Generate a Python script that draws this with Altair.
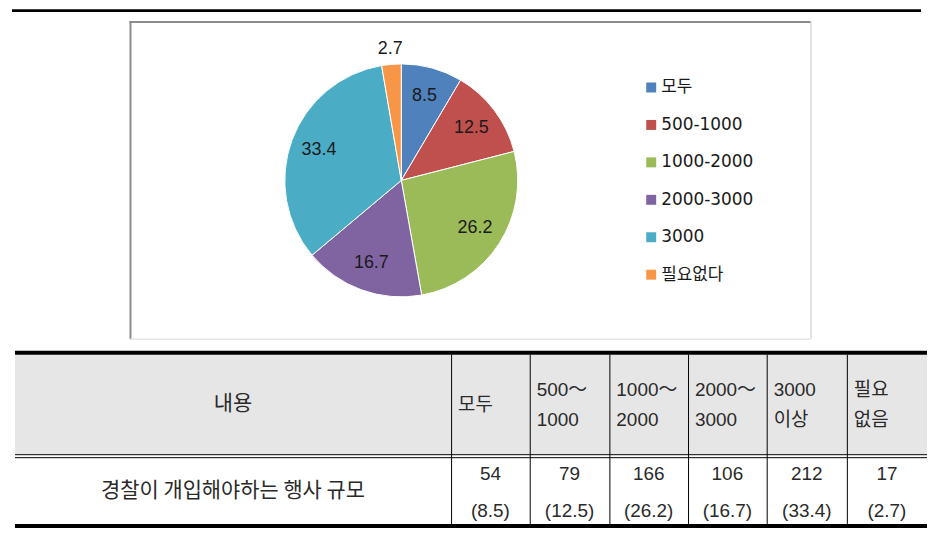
import altair as alt
import pandas as pd

# ---------------- data ----------------
categories = ["모두", "500-1000", "1000-2000", "2000-3000", "3000", "필요없다"]
percents = [8.5, 12.5, 26.2, 16.7, 33.4, 2.7]
colors = ["#4F81BD", "#C0504D", "#9BBB59", "#8064A2", "#4BACC6", "#F79646"]

table_header_label = "내용"
table_row_label = "경찰이 개입해야하는 행사 규모"
table_headers = ["모두", "500～\n1000", "1000～\n2000", "2000～\n3000", "3000\n이상", "필요\n없음"]
counts = ["54", "79", "166", "106", "212", "17"]
count_pcts = ["(8.5)", "(12.5)", "(26.2)", "(16.7)", "(33.4)", "(2.7)"]

# ---------------- layout (page pixels, shifted by the 8px margin) ----------------
OFF = 8
W, H = 924, 525
P = lambda v: v - OFF

pie_cx, pie_cy, pie_r = P(403), P(180), 117
label_r_in, label_r_out = 88, 132

legend_sq_x, legend_txt_x = P(654), P(664)
legend_y0, legend_step = P(86.7), 37.6

box = dict(l=P(130), t=P(20), r=P(814), b=P(339))
tbl_l, tbl_r = P(15), P(931)
tbl_top, hdr_bot, body_top, tbl_bot = P(351), P(455), P(458), P(525)
col_edges = [P(v) for v in [15, 453, 532, 612, 691, 770, 850.5, 931]]
hdr_center_y, hdr_line_h = P(406), 30

xs = alt.Scale(domain=[0, W], range=[0, W], nice=False, zero=False)
ys = alt.Scale(domain=[0, H], range=[0, H], nice=False, zero=False)

# ---------------- structural rects & rules ----------------
rects = pd.DataFrame([
    dict(x=P(12), x2=P(925), y=0, y2=3, fill="#000000"),
    dict(x=tbl_l, x2=tbl_r, y=tbl_top + 4, y2=hdr_bot, fill="#E6E6E6"),
    dict(x=tbl_l, x2=tbl_r, y=tbl_top, y2=tbl_top + 4, fill="#000000"),
    dict(x=tbl_l, x2=tbl_r, y=tbl_bot, y2=tbl_bot + 4, fill="#000000"),
])

rule_rows = [
    dict(x=box["l"], x2=box["r"], y=box["t"] + 1, y2=box["t"] + 1, color="#8C8C8C", w=2),
    dict(x=box["l"] + 1, x2=box["l"] + 1, y=box["t"], y2=box["b"], color="#8C8C8C", w=2),
    dict(x=box["r"] + 0.5, x2=box["r"] + 0.5, y=box["t"], y2=box["b"], color="#C4C4C4", w=1),
    dict(x=box["l"], x2=box["r"], y=box["b"] + 0.5, y2=box["b"] + 0.5, color="#DADADA", w=1),
    dict(x=tbl_l, x2=tbl_r, y=hdr_bot + 0.5, y2=hdr_bot + 0.5, color="#000000", w=1),
    dict(x=tbl_l, x2=tbl_r, y=body_top + 0.5, y2=body_top + 0.5, color="#000000", w=1),
]
for e in col_edges[1:-1]:
    rule_rows.append(dict(x=e + 0.5, x2=e + 0.5, y=tbl_top + 4, y2=tbl_bot, color="#000000", w=1))
rules = pd.DataFrame(rule_rows)

rect_layer = alt.Chart(rects).mark_rect().encode(
    x=alt.X("x:Q", scale=xs, axis=None), x2="x2:Q",
    y=alt.Y("y:Q", scale=ys, axis=None), y2="y2:Q",
    color=alt.Color("fill:N", scale=None),
)
rule_layer = alt.Chart(rules).mark_rule().encode(
    x=alt.X("x:Q", scale=xs, axis=None), x2="x2:Q",
    y=alt.Y("y:Q", scale=ys, axis=None), y2="y2:Q",
    color=alt.Color("color:N", scale=None),
    strokeWidth=alt.StrokeWidth("w:Q", scale=None),
)

# ---------------- pie ----------------
pie_df = pd.DataFrame({"cat": categories, "pct": percents, "idx": list(range(len(categories)))})
pie_base = alt.Chart(pie_df).encode(
    theta=alt.Theta("pct:Q", stack=True),
    order=alt.Order("idx:Q"),
)
arcs = pie_base.mark_arc(outerRadius=pie_r, stroke="white", strokeWidth=1).encode(
    color=alt.Color("cat:N", scale=alt.Scale(domain=categories, range=colors), legend=None),
    x=alt.value(pie_cx), y=alt.value(pie_cy),
)
lab_in = pie_base.transform_calculate(
    lab="datum.pct >= 5 ? format(datum.pct, '.1f') : ''"
).mark_text(radius=label_r_in, font="Liberation Sans", fontSize=18, color="#1A1A1A").encode(
    text="lab:N", x=alt.value(pie_cx), y=alt.value(pie_cy),
)
lab_out = pie_base.transform_calculate(
    lab="datum.pct < 5 ? format(datum.pct, '.1f') : ''"
).mark_text(radius=label_r_out, font="Liberation Sans", fontSize=18, color="#1A1A1A").encode(
    text="lab:N", x=alt.value(pie_cx), y=alt.value(pie_cy),
)

# ---------------- legend ----------------
leg_df = pd.DataFrame({
    "cat": categories,
    "sx": [legend_sq_x] * len(categories),
    "tx": [legend_txt_x] * len(categories),
    "y": [legend_y0 + i * legend_step for i in range(len(categories))],
})
leg_sq = alt.Chart(leg_df).mark_square(size=100, opacity=1).encode(
    x=alt.X("sx:Q", scale=xs, axis=None),
    y=alt.Y("y:Q", scale=ys, axis=None),
    color=alt.Color("cat:N", scale=alt.Scale(domain=categories, range=colors), legend=None),
)
leg_txt = alt.Chart(leg_df).mark_text(
    align="left", baseline="middle", font="DejaVu Sans, Noto Sans CJK KR", fontSize=17, color="#1A1A1A"
).encode(
    x=alt.X("tx:Q", scale=xs, axis=None),
    y=alt.Y("y:Q", scale=ys, axis=None),
    text="cat:N",
)

# ---------------- table text ----------------
centers = [(col_edges[i] + col_edges[i + 1]) / 2 for i in range(len(col_edges) - 1)]
kor_df = pd.DataFrame({
    "x": [centers[0], centers[0]],
    "y": [P(405), P(492)],
    "t": [table_header_label, table_row_label],
})
kor_txt = alt.Chart(kor_df).mark_text(
    align="center", baseline="middle", font="Noto Sans CJK KR", fontSize=21, color="#2A2A2A"
).encode(x=alt.X("x:Q", scale=xs, axis=None), y=alt.Y("y:Q", scale=ys, axis=None), text="t:N")

hdr_df = pd.DataFrame({
    "x": [col_edges[i + 1] + 7 for i in range(len(table_headers))],
    "y": [hdr_center_y - (t.count("\n")) * hdr_line_h / 2 for t in table_headers],
    "t": table_headers,
})
hdr_txt = alt.Chart(hdr_df).mark_text(
    align="left", baseline="middle", lineBreak="\n", lineHeight=hdr_line_h,
    font="Liberation Sans, Noto Sans CJK KR", fontSize=19, color="#2A2A2A"
).encode(x=alt.X("x:Q", scale=xs, axis=None), y=alt.Y("y:Q", scale=ys, axis=None), text="t:N")

body_df = pd.DataFrame({
    "x": centers[1:] * 2,
    "y": [P(475)] * len(counts) + [P(512)] * len(count_pcts),
    "t": counts + count_pcts,
})
body_txt = alt.Chart(body_df).mark_text(
    align="center", baseline="middle", font="Liberation Sans", fontSize=19, color="#2A2A2A"
).encode(x=alt.X("x:Q", scale=xs, axis=None), y=alt.Y("y:Q", scale=ys, axis=None), text="t:N")

chart = alt.layer(
    rect_layer, rule_layer, arcs, lab_in, lab_out, leg_sq, leg_txt, kor_txt, hdr_txt, body_txt
).properties(
    width=W, height=H, padding=0, background="white",
    autosize=alt.AutoSizeParams(type="none"),
).configure_view(strokeWidth=0, stroke="transparent")

chart.save("out.html", embed_options={"renderer": "svg", "actions": False})
